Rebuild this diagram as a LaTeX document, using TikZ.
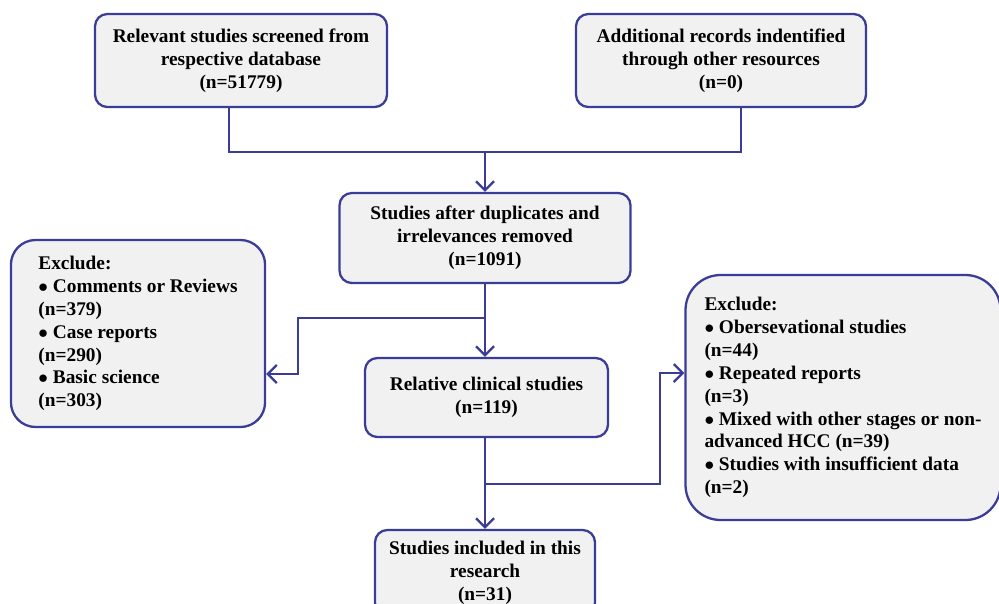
\documentclass[tikz,border=0pt]{standalone}
\usepackage{fontspec}
\setmainfont{Liberation Serif}
\usepackage{tikz}
\usetikzlibrary{arrows.meta,positioning,calc}
\definecolor{flowblue}{HTML}{3B3B98}
\definecolor{boxgray}{HTML}{F1F1F1}
\tikzset{
  stage/.style={draw=flowblue,fill=boxgray,line width=1.3pt,rounded corners=7pt,align=center,
    inner sep=2pt,font=\bfseries\fontsize{11}{13}\selectfont},
  excl/.style={stage,align=left,inner xsep=0.5cm,rounded corners=14pt},
  link/.style={draw=flowblue,line width=1.3pt},
  arrow/.style={link,-{Straight Barb[length=1.8mm,width=3.6mm]}}
}

\begin{document}
\begin{tikzpicture}
        \useasboundingbox (0,0) rectangle (19.98,-12.06);
        \node[stage,minimum width=5.84cm,minimum height=1.86cm] (scr) at (4.82,-1.21)
          {Relevant studies screened from\\ respective database\\ (n=51779)};
        \node[stage,minimum width=5.80cm,minimum height=1.86cm] (add) at (14.42,-1.21)
          {Additional records indentified\\ through other resources\\ (n=0)};
        \node[stage,minimum width=5.82cm,minimum height=1.80cm] (dup) at (9.70,-4.76)
          {Studies after duplicates and\\ irrelevances removed\\ (n=1091)};
        \node[stage,minimum width=4.86cm,minimum height=1.58cm] (rel) at (9.73,-7.95)
          {Relative clinical studies\\ (n=119)};
        \node[stage,minimum width=4.40cm,minimum height=1.70cm] (inc) at (9.70,-11.45)
          {Studies included in this\\ research\\ (n=31)};
        \node[excl,inner xsep=0.55cm,minimum width=5.04cm,minimum height=3.74cm] (exa) at (2.76,-6.67)
          {Exclude:\\ $\bullet$ Comments or Reviews\\ (n=379)\\ $\bullet$ Case reports\\ (n=290)\\
           $\bullet$ Basic science\\ (n=303)};
        \node[excl,inner xsep=0.38cm,rounded corners=20pt,minimum width=6.16cm,minimum height=4.90cm] (exb) at (16.86,-7.95)
          {Exclude:\\ $\bullet$ Obersevational studies\\ (n=44)\\ $\bullet$ Repeated reports\\ (n=3)\\
           $\bullet$ Mixed with other stages or non-\\ advanced HCC (n=39)\\
           $\bullet$ Studies with insufficient data\\ (n=2)};
        % joins
        \coordinate (j1) at (9.70,-3.04);
        \coordinate (j2) at (9.70,-6.36);
        \coordinate (t2) at (5.96,-7.48);
        \coordinate (j3) at (9.70,-9.68);
        \coordinate (t3) at (13.20,-7.46);
        \draw[link] ([xshift=-0.24cm]scr.south) |- (j1) -| ([xshift=0.40cm]add.south);
        \draw[arrow] (j1) -- (j1 |- dup.north);
        \draw[arrow] (dup.south -| j1) -- (j1 |- rel.north);
        \draw[arrow] (j2) -| (t2) -- (t2 -| exa.east);
        \draw[arrow] (rel.south -| j1) -- (j1 |- inc.north);
        \draw[arrow] (j3) -| (t3) -- (t3 -| exb.west);
      \end{tikzpicture}
\end{document}
